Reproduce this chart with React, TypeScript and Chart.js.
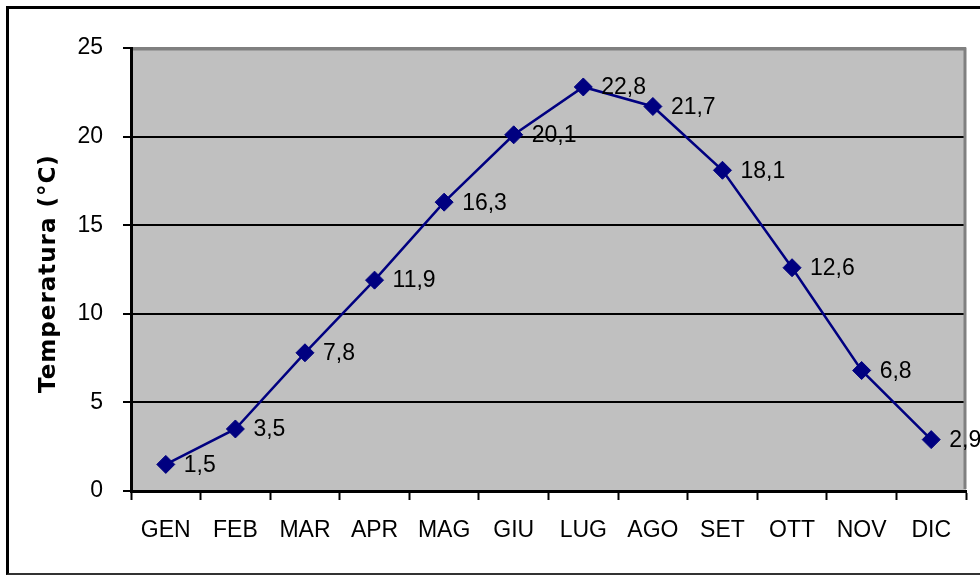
import React, { useEffect, useRef } from "react";
import { Chart, registerables } from "chart.js";

Chart.register(...registerables);

const months = ["GEN", "FEB", "MAR", "APR", "MAG", "GIU", "LUG", "AGO", "SET", "OTT", "NOV", "DIC"];
const temperatures = [1.5, 3.5, 7.8, 11.9, 16.3, 20.1, 22.8, 21.7, 18.1, 12.6, 6.8, 2.9];
const yTitle = "Temperatura (°C)";
const yMin = 0;
const yMax = 25;
const yStep = 5;

const fmt = (v: number) => v.toFixed(1).replace(".", ",");
const FONT = "'Liberation Sans', Arial, sans-serif";

const decorPlugin = {
  id: "decor",
  beforeDraw(chart: any) {
    const { ctx, chartArea } = chart;
    ctx.save();
    ctx.fillStyle = "#C0C0C0";
    ctx.fillRect(chartArea.left, chartArea.top, chartArea.right - chartArea.left, chartArea.bottom - chartArea.top);
    ctx.restore();
  },
  beforeDatasetsDraw(chart: any) {
    const { ctx, chartArea } = chart;
    ctx.save();
    ctx.strokeStyle = "#808080";
    ctx.lineWidth = 3;
    ctx.beginPath();
    ctx.moveTo(chartArea.left + 2, chartArea.top + 1);
    ctx.lineTo(chartArea.right - 1, chartArea.top + 1);
    ctx.lineTo(chartArea.right - 1, chartArea.bottom - 2);
    ctx.stroke();
    ctx.restore();
  },
  afterDraw(chart: any) {
    const { ctx, chartArea } = chart;
    ctx.save();
    ctx.translate(49, (chartArea.top + chartArea.bottom) / 2 + 4);
    ctx.rotate(-Math.PI / 2);
    ctx.font = "bold 23px 'DejaVu Sans'";
    (ctx as any).letterSpacing = "1px";
    ctx.fillStyle = "#000";
    ctx.textAlign = "center";
    ctx.textBaseline = "middle";
    ctx.fillText(yTitle, 0, 0);
    ctx.restore();
    const meta = chart.getDatasetMeta(0);
    ctx.save();
    ctx.font = "23px " + FONT;
    ctx.fillStyle = "#000";
    ctx.textAlign = "left";
    ctx.textBaseline = "middle";
    meta.data.forEach((pt: any, i: number) => {
      ctx.fillText(fmt(temperatures[i]), pt.x + 18, pt.y + 1);
    });
    ctx.restore();
  },
};

export default function App() {
  const canvasRef = useRef<HTMLCanvasElement | null>(null);

  useEffect(() => {
    if (!canvasRef.current) return;
    const chart = new Chart(canvasRef.current, {
      type: "line",
      data: {
        labels: months,
        datasets: [
          {
            data: temperatures,
            borderColor: "#000080",
            backgroundColor: "#000080",
            borderWidth: 2.5,
            pointStyle: "rectRot",
            pointRadius: 9,
            pointBorderWidth: 1,
            pointBackgroundColor: "#000080",
            pointBorderColor: "#000080",
            tension: 0,
            fill: false,
          },
        ],
      },
      options: {
        animation: false,
        responsive: false,
        maintainAspectRatio: false,
        layout: { padding: { left: 0, top: 48, right: 14, bottom: 0 } },
        plugins: {
          legend: { display: false },
          tooltip: { enabled: false },
          title: { display: false },
        },
        scales: {
          x: {
            type: "category",
            offset: true,
            afterFit: (s: any) => {
              s.height = 84;
            },
            grid: {
              display: true,
              drawOnChartArea: false,
              drawTicks: true,
              tickLength: 9,
              tickColor: "#000",
              tickWidth: 2,
              offset: true,
            },
            border: { display: true, color: "#000", width: 3 },
            ticks: {
              color: "#000",
              padding: 17,
              font: { family: FONT, size: 23 },
              maxRotation: 0,
              autoSkip: false,
            },
          },
          y: {
            min: yMin,
            max: yMax,
            afterFit: (s: any) => {
              s.width = 131;
            },
            grid: {
              color: (c: any) => (c.tick && c.tick.value === yMax ? "#808080" : "#000"),
              lineWidth: 2,
              drawTicks: true,
              tickLength: 8,
              tickColor: "#000",
              tickWidth: 2,
            },
            border: { display: true, color: "#000", width: 3 },
            ticks: {
              stepSize: yStep,
              color: "#000",
              padding: 20,
              font: { family: FONT, size: 23 },
              callback: (v: any) => String(v),
            },
          },
        },
      },
      plugins: [decorPlugin],
    });
    return () => chart.destroy();
  }, []);

  return (
    <div style={{ position: "fixed", left: 0, top: 0, width: 980, height: 575, background: "#fff", overflow: "hidden" }}>
      <div
        style={{
          position: "absolute",
          left: 6,
          top: 6,
          width: 1000,
          height: 569,
          boxSizing: "border-box",
          borderTop: "3px solid #000",
          borderLeft: "3px solid #000",
          borderBottom: "2px solid #333",
        }}
      />
      <canvas ref={canvasRef} width={980} height={575} style={{ position: "absolute", left: 0, top: 0, width: 980, height: 575 }} />
    </div>
  );
}
